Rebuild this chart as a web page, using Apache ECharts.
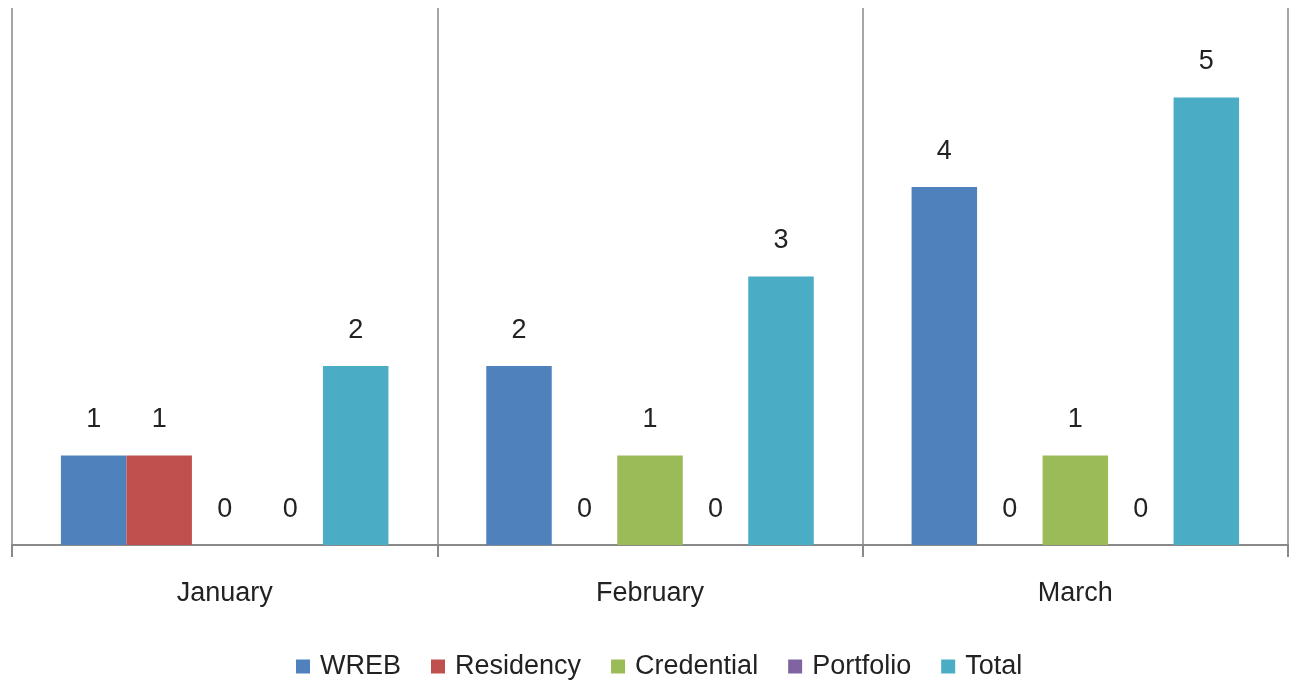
<!DOCTYPE html>
<html>
<head>
<meta charset="utf-8">
<script src="https://cdn.jsdelivr.net/npm/echarts@6/dist/echarts.min.js"></script>
<style>html,body{margin:0;padding:0;background:#fff;}#c{width:1292px;height:685px;}</style>
</head>
<body>
<div id="c"></div>
<script>
const categories = ['January', 'February', 'March'];
const seriesNames = ['WREB', 'Residency', 'Credential', 'Portfolio', 'Total'];
const wreb = [1, 2, 4];
const residency = [1, 0, 0];
const credential = [0, 1, 1];
const portfolio = [0, 0, 0];
const total = [2, 3, 5];
const colors = ['#4F81BD', '#C0504D', '#9BBB59', '#8064A2', '#4BACC6'];
const values = [wreb, residency, credential, portfolio, total];
const FONT = '"Liberation Sans Narrow", "Arial Narrow", "Liberation Sans", sans-serif';

const chart = echarts.init(document.getElementById('c'));
chart.setOption({
  animation: false,
  color: colors,
  grid: { left: 12, right: 4, top: 8, bottom: 140, containLabel: false },
  legend: {
    bottom: 0,
    left: 291,
    itemWidth: 14, itemHeight: 14, itemGap: 30,
    icon: 'rect',
    textStyle: { fontFamily: FONT, fontSize: 27, color: '#222', padding: [0, 0, 0, 5] },
    data: seriesNames
  },
  xAxis: {
    type: 'category',
    data: categories,
    axisLine: { lineStyle: { color: '#898989', width: 2 } },
    axisTick: { show: true, length: 12, lineStyle: { color: '#898989', width: 2 } },
    splitLine: { show: true, lineStyle: { color: '#898989', width: 1.5 } },
    axisLabel: { margin: 35, fontFamily: FONT, fontSize: 27, color: '#222' }
  },
  yAxis: {
    type: 'value', min: 0, max: 6, interval: 1,
    show: false,
    splitLine: { show: false }
  },
  series: seriesNames.map((n, i) => ({
    name: n,
    type: 'bar',
    data: values[i],
    barGap: '0%',
    barCategoryGap: '23%',
    itemStyle: { color: colors[i] },
    label: {
      show: true, position: 'top', distance: 22,
      fontFamily: FONT, fontSize: 27, color: '#222'
    }
  }))
});
</script>
</body>
</html>
